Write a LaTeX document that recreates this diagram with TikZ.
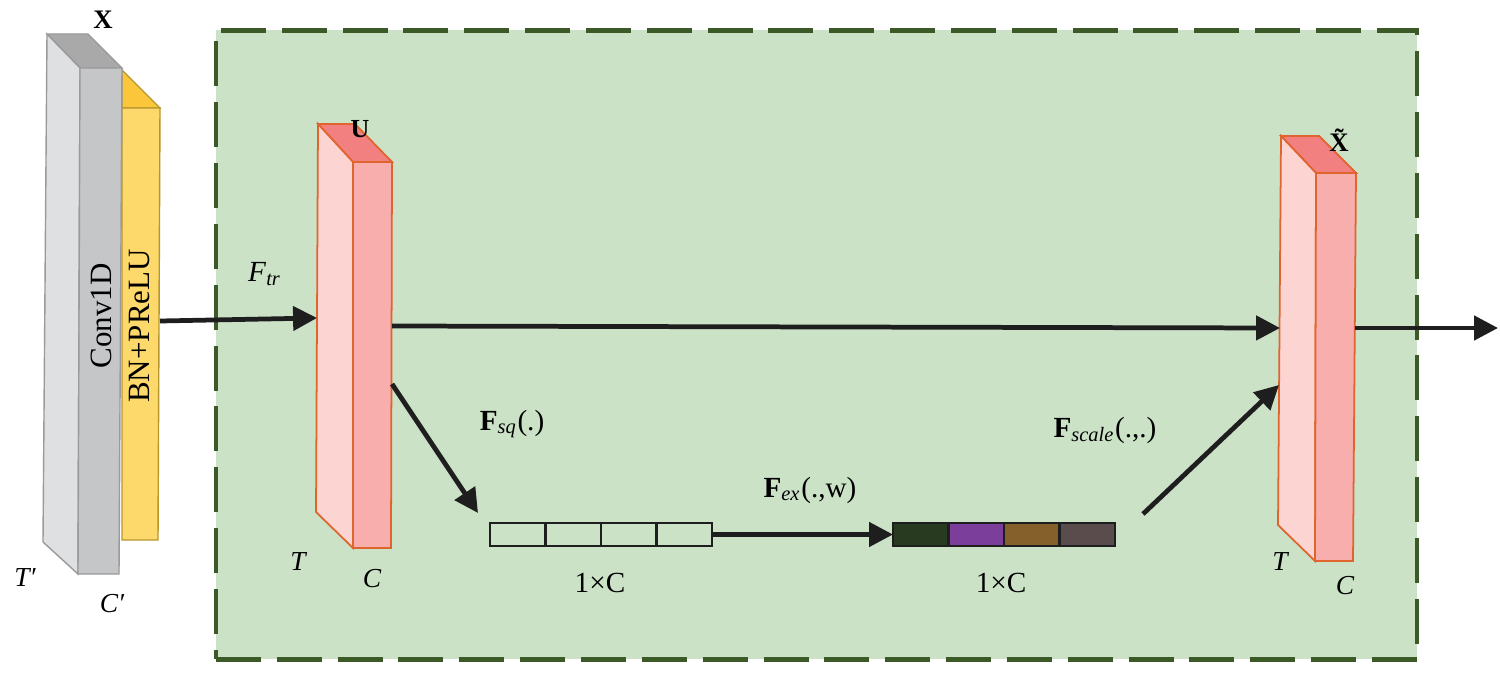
\documentclass[tikz,border=0pt]{standalone}
\usepackage{fontspec}
\setmainfont{Liberation Serif}
\usetikzlibrary{arrows.meta}
\definecolor{bgg}{HTML}{CBE2C7}
\definecolor{bord}{HTML}{3B5A28}
\definecolor{grL}{HTML}{DFE0E2}
\definecolor{grF}{HTML}{C5C6C8}
\definecolor{grT}{HTML}{A9A9A9}
\definecolor{grE}{HTML}{9A9A9C}
\definecolor{yeF}{HTML}{FDD96B}
\definecolor{yeT}{HTML}{FCC63A}
\definecolor{yeE}{HTML}{B8962E}
\definecolor{reL}{HTML}{FCD5D3}
\definecolor{reF}{HTML}{F8AEAD}
\definecolor{reT}{HTML}{F38080}
\definecolor{reE}{HTML}{E0642E}
\definecolor{cA}{HTML}{283B20}
\definecolor{cB}{HTML}{7B3F9B}
\definecolor{cC}{HTML}{85602A}
\definecolor{cD}{HTML}{5A4C4C}
\definecolor{ink}{HTML}{1E1E1E}
\begin{document}
\begin{tikzpicture}[x=0.01cm,y=-0.01cm,
  conn/.style={draw=ink,line width=1.35pt,-{Triangle[length=6.8pt,width=6.8pt]}},
  grayface/.style={draw=grE,line width=0.4pt},
  yelface/.style={draw=yeE,line width=0.4pt},
  redface/.style={draw=reE,line width=0.5pt},
  cell/.style={draw=ink,line width=0.6pt,minimum width=55.5*0.01cm,minimum height=23*0.01cm,inner sep=0pt,outer sep=0pt,anchor=west},
  lbl/.style={font=\fontsize{8.3pt}{10pt}\selectfont,inner sep=0pt},
  dimlbl/.style={font=\fontsize{7.8pt}{9pt}\selectfont\itshape,inner sep=0pt},
  boldlbl/.style={font=\fontsize{7pt}{8pt}\selectfont\bfseries,inner sep=0pt}]
\useasboundingbox (0,0) rectangle (1500,673);

% green dashed frame
\node[draw=bord,fill=bgg,line width=1.4pt,dash pattern=on 12.8pt off 4.5pt,
  minimum width=1201*0.01cm,minimum height=629*0.01cm,inner sep=0pt,anchor=north west] (frame) at (213.5,28) {};

% yellow slab (BN+PReLU)
\fill[yeT,yelface] (122,70) -- (160,108) -- (122,108) -- cycle;
\fill[yeF,yelface] (122,108) -- (160,108) -- (158,540) -- (122,540) -- cycle;
% gray slab (Conv1D)
\fill[grT,grayface] (47,34) -- (88,34) -- (122,68) -- (80,68) -- cycle;
\fill[grL,grayface] (47,34) -- (80,68) -- (78,574) -- (43,542) -- cycle;
\fill[grF,grayface] (80,68) -- (122,68) -- (119,574) -- (78,574) -- cycle;
\node[lbl,rotate=90,font=\fontsize{8.8pt}{10pt}\selectfont] (conv) at (101,316) {Conv1D};
\node[lbl,rotate=90,font=\fontsize{8.8pt}{10pt}\selectfont] (bn) at (140,326) {BN+PReLU};
\node[boldlbl,font=\fontsize{7.6pt}{8pt}\selectfont\bfseries] (xlab) at (103,20) {X};
\node[dimlbl] (tp) at (25,578) {T′};
\node[dimlbl] (cp) at (112,604) {C′};

% U slab
\fill[reT,redface] (318,124) -- (355,124) -- (392,162) -- (353,162) -- cycle;
\fill[reL,redface] (318,124) -- (353,162) -- (353,548) -- (316,512) -- cycle;
\fill[reF,redface] (353,162) -- (392,162) -- (391,548) -- (353,548) -- cycle;
\node[boldlbl,font=\fontsize{7.4pt}{8pt}\selectfont\bfseries] (ulab) at (360,129) {U};
\node[dimlbl] (t1) at (298,562) {T};
\node[dimlbl] (c1) at (372,579) {C};

% X tilde slab
\fill[reT,redface] (1281,136) -- (1319,136) -- (1356,173) -- (1316,173) -- cycle;
\fill[reL,redface] (1281,136) -- (1316,173) -- (1315,561) -- (1278,525) -- cycle;
\fill[reF,redface] (1316,173) -- (1356,173) -- (1353,561) -- (1315,561) -- cycle;
\node[boldlbl,font=\fontsize{7.6pt}{8pt}\selectfont\bfseries] (xtlab) at (1339,140) {\~X};
\node[dimlbl] (t2) at (1280,562) {T};
\node[dimlbl] (c2) at (1345,586) {C};

% vectors
\node[cell] (a1) at (490,534.5) {};
\node[cell,anchor=west] (a2) at (a1.east) {};
\node[cell,anchor=west] (a3) at (a2.east) {};
\node[cell,anchor=west] (a4) at (a3.east) {};
\node[cell,fill=cA] (b1) at (893,534.5) {};
\node[cell,fill=cB,anchor=west] (b2) at (b1.east) {};
\node[cell,fill=cC,anchor=west] (b3) at (b2.east) {};
\node[cell,fill=cD,anchor=west] (b4) at (b3.east) {};
\node[lbl] (dimA) at (600,583) {1×C};
\node[lbl] (dimB) at (1001,583) {1×C};

% connector points
\coordinate (yout) at (160,321);
\coordinate (uin) at (317,318);
\coordinate (uout) at (392,326);
\coordinate (xin) at (1280,328);
\coordinate (udiag) at (392,384);
\coordinate (sqend) at (478,513);
\coordinate (exstart) at (1143,514);
\coordinate (xdiag) at (1279,385);
\coordinate (xout) at (1355,328);
\coordinate (final) at (1498,328);

\draw[conn] (yout) -- (uin);
\draw[conn] (uout) -- (xin);
\draw[conn] (udiag) -- (sqend);
\draw[conn] (a4.east) -- (b1.west);
\draw[conn] (exstart) -- (xdiag);
\draw[conn] (xout) -- (final);

% labels
\node[lbl] (ftr) at (265,274) {\textit{F}\textsubscript{\textit{tr}}};
\node[lbl] (fsq) at (512,424) {\textbf{F}\textsubscript{\textit{sq}}(.)};
\node[lbl] (fex) at (810,490) {\textbf{F}\textsubscript{\textit{ex}}(.,w)};
\node[lbl] (fsc) at (1105,430) {\textbf{F}\textsubscript{\textit{scale}}(.,.)};
\end{tikzpicture}
\end{document}
